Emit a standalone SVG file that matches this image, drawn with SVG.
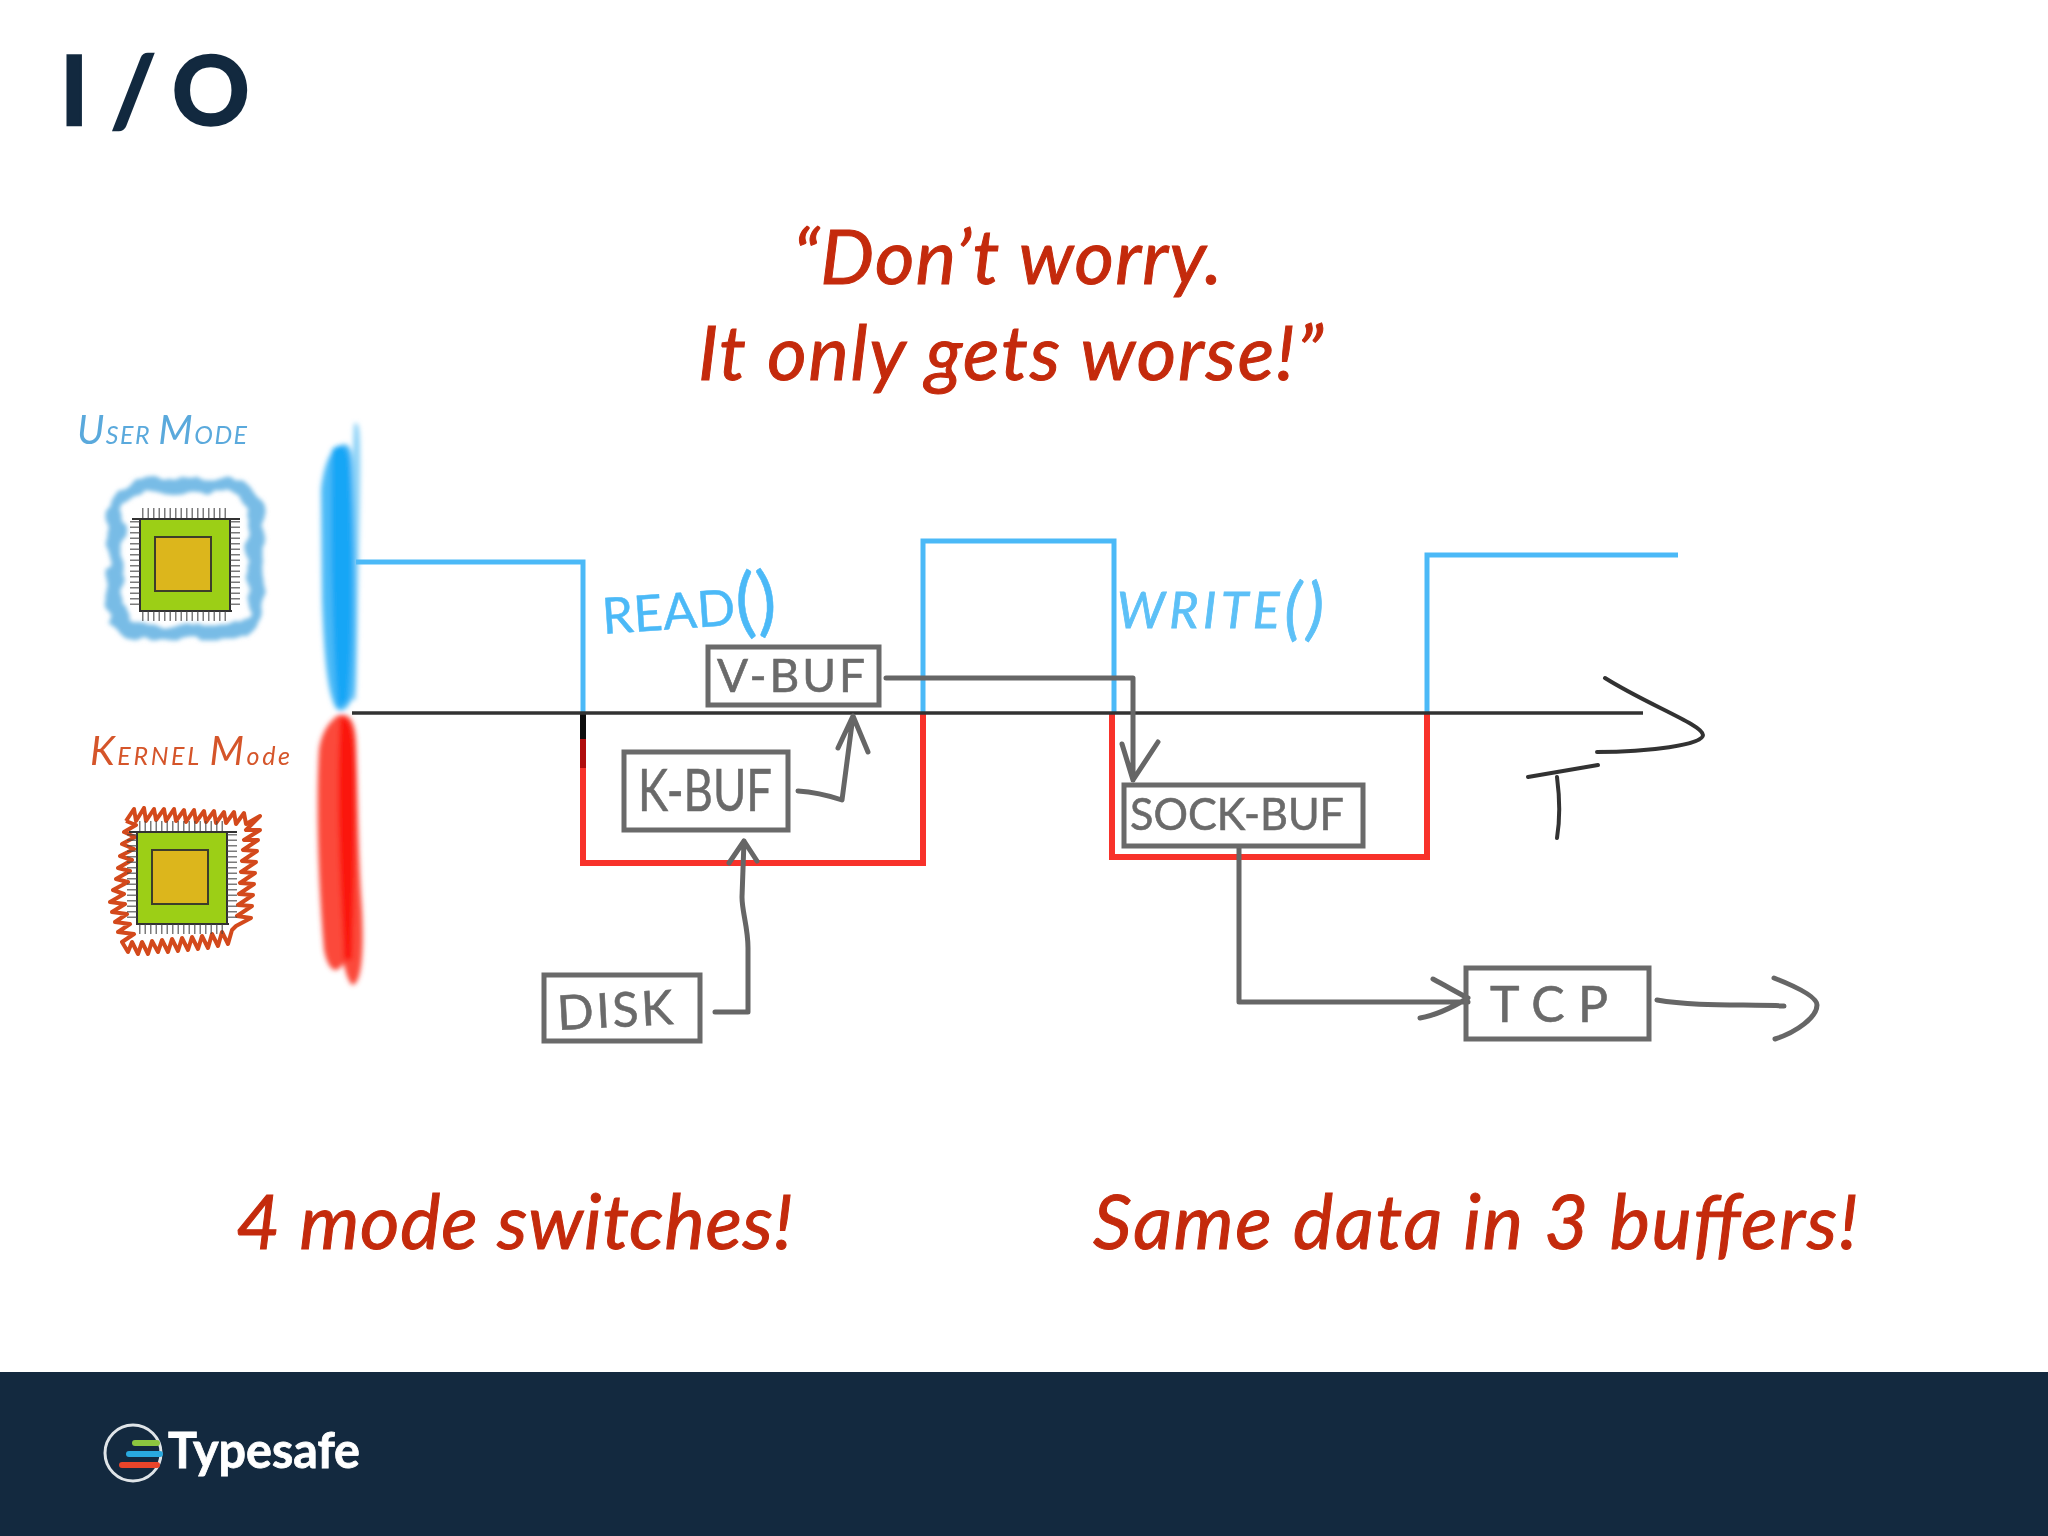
<svg xmlns="http://www.w3.org/2000/svg" width="2048" height="1536" viewBox="0 0 2048 1536">
<style>
.red{font-family:Lato,"Liberation Sans",sans-serif;font-style:italic;font-weight:400;font-size:76px;fill:#c42a0c;stroke:#c42a0c;stroke-width:1}
.box{fill:none;stroke:#6a6a6a;stroke-width:5}
.ink{fill:none;stroke:#666;stroke-width:5;stroke-linecap:round;stroke-linejoin:round}
.grey{font-family:Lato,"Liberation Sans",sans-serif;font-weight:400;fill:#6a6a6a;stroke:#6a6a6a;stroke-width:.6}
.blue{fill:none;stroke:#4cb9f7;stroke-width:5}
.redl{fill:none;stroke:#f8302a;stroke-width:6}
.pin{fill:none;stroke:#444;stroke-dasharray:1.5 4;opacity:.7}
.big{font-size:40px}
.sm{font-size:25px}
</style>
<defs>
<filter id="soft" x="-10%" y="-10%" width="120%" height="120%"><feGaussianBlur stdDeviation="0.7"/></filter>
<filter id="smear" x="-30%" y="-10%" width="160%" height="120%"><feGaussianBlur stdDeviation="2.5"/></filter>
<filter id="cloud" x="-15%" y="-15%" width="130%" height="130%"><feTurbulence type="fractalNoise" baseFrequency="0.05" numOctaves="2" seed="4"/><feDisplacementMap in="SourceGraphic" scale="14" xChannelSelector="R" yChannelSelector="G"/><feGaussianBlur stdDeviation="2"/></filter>
<g id="chip">
<rect x="0" y="0" width="90" height="92" fill="#9ccf12"/>
<rect x="15" y="18" width="56" height="54" fill="#dcb61e" stroke="#3d3d2a" stroke-width="2"/>
<path d="M-8 0H100M0 0V92H92M90 0V92" fill="none" stroke="#333" stroke-width="2"/>
<path class="pin" stroke-width="10" d="M2 -6H88M2 97H88M-5 2V90M95 2V90"/>
</g>
</defs>
<rect width="2048" height="1536" fill="#fff"/>
<g id="title"><text x="60 0 111 0 172" y="125" font-family="Lato,'Liberation Sans',sans-serif" font-weight="700" font-size="96" fill="#12293f" stroke="#12293f" stroke-width="2.5">I / O</text></g>
<g id="quote">
<text class="red" x="793" y="284" textLength="429" lengthAdjust="spacing">“Don’t worry.</text>
<text class="red" x="698" y="380" textLength="625" lengthAdjust="spacing">It only gets worse!”</text>
</g>
<g id="notes">
<text class="red" x="236" y="1249" textLength="557" lengthAdjust="spacing">4 mode switches!</text>
<text class="red" x="1093" y="1249" textLength="765" lengthAdjust="spacing">Same data in 3 buffers!</text>
</g>
<g id="footer">
<rect x="0" y="1372" width="2048" height="164" fill="#13293f"/>
<circle cx="133" cy="1453" r="28" fill="none" stroke="#dfe4e8" stroke-width="3"/>
<path d="M135 1443H157" stroke="#8cc63f" stroke-width="6" stroke-linecap="round"/>
<path d="M129 1454H160" stroke="#29a9df" stroke-width="6" stroke-linecap="round"/>
<path d="M122 1465H157" stroke="#e8442a" stroke-width="6" stroke-linecap="round"/>
<text x="168" y="1468" font-family="Lato,'Liberation Sans',sans-serif" font-weight="700" font-size="50" fill="#fff" stroke="#fff" stroke-width=".8" textLength="192" lengthAdjust="spacingAndGlyphs">Typesafe</text>
</g>
<g id="user-mode" filter="url(#soft)">
<text x="77" y="444" font-family="Lato,'Liberation Sans',sans-serif" font-style="italic" fill="#5aa9dc" textLength="170" lengthAdjust="spacing"><tspan class="big">U</tspan><tspan class="sm">SER </tspan><tspan class="big"> M</tspan><tspan class="sm">ODE</tspan></text>
<rect x="115" y="486" width="141" height="146" rx="28" fill="none" stroke="#78bce6" stroke-width="15" filter="url(#cloud)"/>
<use href="#chip" x="140" y="519"/>
</g>
<g id="kernel-mode" filter="url(#soft)">
<text x="90" y="765" font-family="Lato,'Liberation Sans',sans-serif" font-style="italic" fill="#d5552a" textLength="200" lengthAdjust="spacing"><tspan class="big">K</tspan><tspan class="sm">ERNEL </tspan><tspan class="big"> M</tspan><tspan class="sm" font-size="30">ode</tspan></text>
<g transform="translate(0 -6)"><polyline fill="none" stroke="#d34a1a" stroke-width="4" stroke-linejoin="round" points="126,827 134,815 136,827 144,814 146,827 154,815 156,826 164,815 166,827 174,815 176,827 184,816 186,828 194,816 196,828 204,817 206,828 214,817 216,829 224,818 226,829 234,818 236,830 244,819 246,830 260,822 246,836 260,836 244,846 258,846 243,856 257,857 242,867 256,868 241,878 255,879 240,889 254,890 239,900 253,901 238,911 252,912 237,922 251,924 236,932 232,936 228,950 222,938 218,952 212,940 208,954 202,942 198,955 192,943 188,956 182,944 178,957 172,945 168,958 162,946 158,958 152,947 148,960 142,948 138,960 132,948 128,958 122,948 134,940 118,938 130,930 115,928 127,920 112,918 125,910 110,908 124,900 113,896 128,888 116,885 130,877 118,874 132,866 120,862 134,855 122,850 135,843 124,838 136,831 126,827"/>
<use href="#chip" x="137" y="838"/></g>
</g>
<g id="mode-bars" filter="url(#smear)">
<path d="M354 424C360 420 361 430 360 500L356 700H346C350 600 350 500 354 424Z" fill="#8fd3f7"/>
<path d="M321 490C324 462 332 448 338 448C345 440 352 445 352 460C356 520 358 640 355 690C350 708 342 715 336 708C328 695 324 660 322 600Z" fill="#4cbaf7"/>
<path d="M332 450C342 440 350 448 350 470C353 540 354 640 348 700L338 708C332 650 330 540 332 450Z" fill="#14a6f6"/>
<path d="M337 716C345 712 355 716 356 740C358 800 358 850 362 910C364 950 362 985 352 985C344 975 345 960 342 965C336 975 328 970 324 950C318 880 316 800 319 750C322 730 330 722 337 716Z" fill="#fb4a3a"/>
<path d="M340 718C350 714 354 730 355 760C356 820 354 900 352 960L344 960C340 880 336 800 340 718Z" fill="#fb1608"/>
</g>
<g id="connectors" filter="url(#soft)">
<path class="blue" d="M356 562H583V712"/>
<path class="blue" d="M923 712V541H1114V712"/>
<path class="blue" d="M1427 712V555H1678"/>
<path class="redl" d="M583 713V863H923V713"/>
<path class="redl" d="M1112 713V857H1427V713"/>
<path d="M583 713V739" stroke="#111" stroke-width="6"/>
<path d="M583 739V768" stroke="#b01010" stroke-width="6"/>
<path d="M352 713H1643" stroke="#333" stroke-width="3.5"/>
<path d="M1605 678C1648 705 1703 725 1703 735C1703 745 1648 752 1597 752M1528 777L1598 765M1557 777C1560 800 1560 820 1557 838" fill="none" stroke="#333" stroke-width="4" stroke-linecap="round"/>
<path class="ink" d="M886 678H1133V780M1122 744L1133 780L1158 742"/>
<path class="ink" d="M798 791C815 792 830 796 842 800L853 716M838 748L853 716L868 752"/>
<path class="ink" d="M715 1012H748V948C748 927 742 912 742 897L744 841M729 863L744 841L757 861"/>
<path class="ink" d="M1239 848V1002H1468M1433 979C1448 987 1458 993 1468 998C1453 1007 1438 1015 1420 1018"/>
<path class="ink" d="M1657 1000C1697 1007 1747 1004 1784 1006M1774 978C1797 987 1817 997 1817 1005C1817 1017 1797 1032 1775 1039"/>
</g>
<g id="read" filter="url(#soft)"><text transform="rotate(-4 603 632)" x="603" y="634" font-family="Lato,'Liberation Sans',sans-serif" fill="#4cb9f7" stroke="#4cb9f7" stroke-width=".5" textLength="175" lengthAdjust="spacing"><tspan font-size="50">READ</tspan><tspan font-size="76" dy="4">()</tspan></text></g>
<g id="write" filter="url(#soft)"><text x="1117" y="628" font-family="Lato,'Liberation Sans',sans-serif" font-style="italic" fill="#5cc0f7" stroke="#5cc0f7" stroke-width=".8" textLength="207" lengthAdjust="spacing"><tspan font-size="50">WRITE</tspan><tspan font-size="68" dy="4">()</tspan></text></g>
<g id="v-buf" filter="url(#soft)"><rect class="box" x="708" y="647" width="171" height="58"/><text class="grey" x="717" y="692" font-size="46" textLength="148" lengthAdjust="spacing">V-BUF</text></g>
<g id="k-buf" filter="url(#soft)"><rect class="box" x="624" y="752" width="164" height="78"/><text class="grey" x="638" y="811" font-size="58" textLength="134" lengthAdjust="spacingAndGlyphs">K-BUF</text></g>
<g id="disk" filter="url(#soft)"><rect class="box" x="544" y="975" width="156" height="66"/><text class="grey" transform="rotate(-3 560 1030)" x="558" y="1030" font-size="48" textLength="116" lengthAdjust="spacing">DISK</text></g>
<g id="sock-buf" filter="url(#soft)"><rect class="box" x="1124" y="785" width="239" height="61"/><text class="grey" x="1130" y="830" font-size="44" textLength="214" lengthAdjust="spacingAndGlyphs">SOCK-BUF</text></g>
<g id="tcp" filter="url(#soft)"><rect class="box" x="1466" y="968" width="183" height="71"/><text class="grey" x="1490" y="1022" font-size="50" textLength="118" lengthAdjust="spacing">TCP</text></g>
</svg>
